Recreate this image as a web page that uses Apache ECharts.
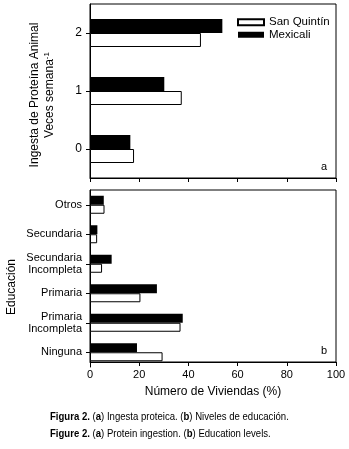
<!DOCTYPE html>
<html>
<head>
<meta charset="utf-8">
<script src="https://cdn.jsdelivr.net/npm/echarts@6/dist/echarts.min.js"></script>
<style>
  html, body { margin: 0; padding: 0; background: #fff; }
  #chart { width: 349px; height: 449px; }
</style>
</head>
<body>
<div id="chart"></div>
<script>
// panel a: animal protein intake (times per week)
const intakeCats = ['0', '1', '2'];
const intakeSanQuintin = [17.9, 37.3, 45.1];
const intakeMexicali = [16.4, 30.2, 53.8];

// panel b: education level (bottom to top)
const eduCats = ['Ninguna', 'Primaria\nIncompleta', 'Primaria', 'Secundaria\nIncompleta', 'Secundaria', 'Otros'];
const eduSanQuintin = [29.5, 36.8, 20.5, 4.9, 2.9, 5.9];
const eduMexicali = [19.1, 37.7, 27.2, 8.8, 3.0, 5.6];

const xMin = 0, xMax = 100, xStep = 20;

const FONT = 'Liberation Sans, Arial, sans-serif';
const black = '#000';

const chart = echarts.init(document.getElementById('chart'), null, { renderer: 'canvas' });

const lineStyle = { color: black, width: 1 };
const valueAxis = (gridIndex, extra) => Object.assign({
  type: 'value', gridIndex, min: xMin, max: xMax, interval: xStep,
  axisLine: { show: true, lineStyle },
  axisTick: { show: true, length: 4, lineStyle },
  axisLabel: { show: false },
  splitLine: { show: false }
}, extra || {});

const panelLabel = { fontSize: 11, fontWeight: 'normal', fontFamily: FONT, color: black };
// fixed grid boxes, no auto shrinking for labels near the edge
const box = (top, height, show) => ({
  left: 90, width: 246, top, height, show,
  borderColor: black, borderWidth: 1,
  outerBoundsMode: 'none', containLabel: false
});

chart.setOption({
  animation: false,
  backgroundColor: '#fff',
  textStyle: { fontFamily: FONT, color: black },
  title: [
    { text: 'a', left: 321, top: 161, padding: 0, textStyle: panelLabel },
    { text: 'b', left: 321, top: 345, padding: 0, textStyle: panelLabel }
  ],
  graphic: [
    {
      // caption set in a narrow face, squeezed horizontally
      type: 'text', x: 50, y: 408, scaleX: 0.87,
      style: {
        text: '{b|Figura 2.} ({b|a}) Ingesta proteica. ({b|b}) Niveles de educación.\n{b|Figure 2.} ({b|a}) Protein ingestion. ({b|b}) Education levels.',
        fill: black, fontSize: 11, fontFamily: FONT, lineHeight: 17,
        rich: { b: { fontWeight: 'bold', fontSize: 11, fontFamily: FONT, fill: black, lineHeight: 17 } }
      }
    }
  ],
  legend: {
    data: ['San Quintín', 'Mexicali'],
    orient: 'vertical',
    left: 237, top: 16, padding: 0,
    itemWidth: 26, itemHeight: 6, itemGap: 0,
    icon: 'rect',
    selectedMode: false,
    textStyle: { fontSize: 11.5, fontFamily: FONT, color: black, lineHeight: 12.5 }
  },
  grid: [
    box(4, 174, true),
    box(190, 177, false),
    box(190, 172, true)
  ],
  xAxis: [
    valueAxis(0),
    valueAxis(1, { show: false }),
    valueAxis(2, {
      axisLabel: { show: true, fontSize: 11, color: black, fontFamily: FONT, margin: 7 },
      name: 'Número de Viviendas (%)',
      nameLocation: 'middle', nameGap: 24,
      nameTextStyle: { fontSize: 12, color: black, fontFamily: FONT }
    })
  ],
  yAxis: [
    {
      type: 'category', gridIndex: 0, data: intakeCats,
      axisLine: { show: true, lineStyle },
      axisTick: { show: true, length: 4, alignWithLabel: true, lineStyle },
      axisLabel: { fontSize: 12, color: black, margin: 8 },
      name: 'Ingesta de Proteína Animal\nVeces semana{s|-1}',
      nameLocation: 'middle', nameRotate: 90, nameGap: 33,
      nameTextStyle: {
        fontSize: 12, color: black, fontFamily: FONT, lineHeight: 15, align: 'center',
        padding: [0, 0, 0, -8],
        rich: { s: { fontSize: 8, fontFamily: FONT, color: black, padding: [0, 0, 6, 0] } }
      }
    },
    {
      type: 'category', gridIndex: 1, data: eduCats,
      axisLine: { show: true, lineStyle },
      axisTick: { show: true, length: 4, alignWithLabel: true, lineStyle },
      axisLabel: { fontSize: 11, color: black, margin: 8, lineHeight: 12.5, align: 'right' }
    },
    {
      type: 'value', gridIndex: 2, min: 0, max: 1,
      axisLine: { show: false }, axisTick: { show: false }, axisLabel: { show: false },
      splitLine: { show: false },
      name: 'Educación',
      nameLocation: 'middle', nameRotate: 90, nameGap: 72,
      nameTextStyle: { fontSize: 12, color: black, fontFamily: FONT, padding: [0, 0, 0, -22] }
    }
  ],
  // first series of a group sits on top for horizontal bars
  series: [
    {
      name: 'Mexicali', type: 'bar', xAxisIndex: 0, yAxisIndex: 0,
      data: intakeMexicali, barWidth: 14, barGap: '0%',
      itemStyle: { color: black }
    },
    {
      name: 'San Quintín', type: 'bar', xAxisIndex: 0, yAxisIndex: 0,
      data: intakeSanQuintin, barWidth: 14, barGap: '0%',
      itemStyle: { color: '#fff', borderColor: black, borderWidth: 1 }
    },
    {
      name: 'Mexicali', type: 'bar', xAxisIndex: 1, yAxisIndex: 1,
      data: eduMexicali, barWidth: 9, barGap: '0%',
      itemStyle: { color: black }
    },
    {
      name: 'San Quintín', type: 'bar', xAxisIndex: 1, yAxisIndex: 1,
      data: eduSanQuintin, barWidth: 9, barGap: '0%',
      itemStyle: { color: '#fff', borderColor: black, borderWidth: 1 }
    }
  ]
});
</script>
</body>
</html>
